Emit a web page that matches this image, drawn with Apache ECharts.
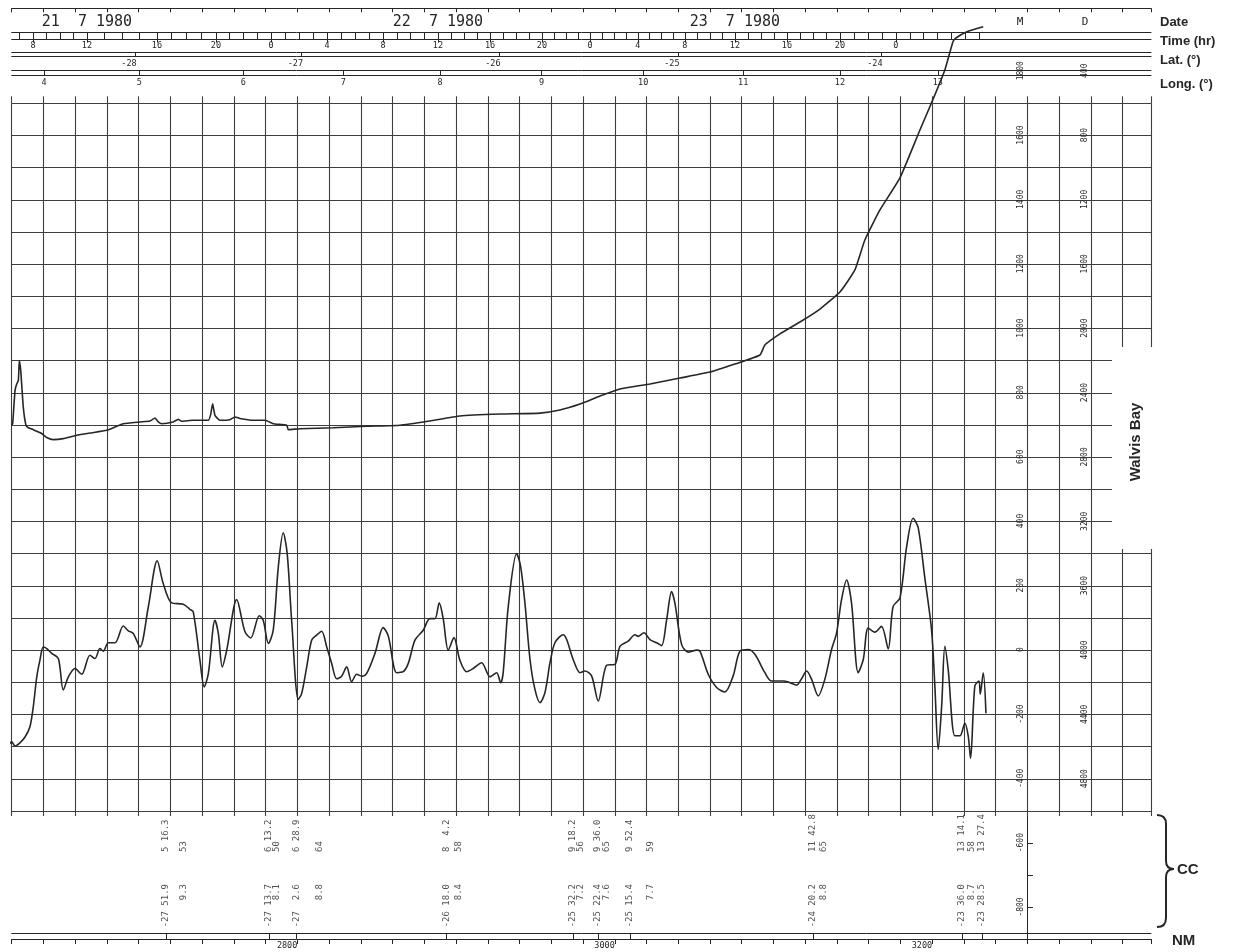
<!DOCTYPE html>
<html><head><meta charset="utf-8">
<script src="https://cdn.jsdelivr.net/npm/echarts@6/dist/echarts.min.js"></script>
<style>html,body{margin:0;padding:0;background:#fff}#c{width:1237px;height:952px}</style>
</head><body><div id="c"></div>
<script>
// ---------------- DATA (distance along track in nautical miles) ----------------
const magDist = [2617.9,2620.0,2622.1,2625.2,2628.4,2631.5,2633.6,2635.8,2637.8,2639.9,2642.1,2645.2,2649.4,2652.5,2655.7,2659.9,2664.1,2669.3,2672.5,2675.6,2677.7,2680.9,2685.1,2690.3,2693.5,2696.6,2700.8,2706.1,2711.7,2715.5,2720.8,2728.1,2732.3,2734.4,2738.6,2741.3,2743.9,2748.1,2750.2,2752.7,2755.5,2761.8,2767.0,2770.6,2776.0,2778.5,2781.7,2784.8,2788.0,2791.1,2793.6,2796.4,2800.6,2802.7,2805.9,2809.0,2812.2,2815.3,2818.5,2821.6,2824.8,2827.9,2831.1,2834.2,2837.4,2840.5,2843.7,2848.9,2854.1,2857.3,2862.6,2866.7,2869.9,2874.1,2879.3,2883.5,2886.7,2889.4,2891.9,2895.1,2898.7,2902.4,2906.7,2910.8,2916.1,2921.4,2925.6,2928.1,2929.7,2932.9,2938.2,2940.7,2943.4,2946.6,2949.7,2952.9,2956.0,2959.2,2962.3,2967.5,2969.7,2973.8,2978.1,2981.2,2985.4,2989.6,2994.9,3000.1,3003.3,3008.5,3012.7,3014.8,3018.4,3022.2,3026.4,3029.5,3032.7,3035.8,3037.9,3042.1,3046.3,3051.6,3053.7,3058.9,3064.2,3069.4,3074.6,3078.9,3084.1,3088.3,3094.6,3098.8,3106.1,3110.4,3114.6,3117.7,3120.9,3124.0,3128.2,3132.4,3136.6,3139.8,3142.9,3146.1,3149.2,3153.4,3156.6,3159.7,3163.9,3168.1,3172.3,3175.4,3179.7,3183.9,3188.0,3191.2,3195.4,3199.6,3201.7,3203.8,3206.0,3208.0,3210.1,3214.3,3217.5,3220.6,3222.7,3224.2,3226.9,3229.5,3230.3,3232.2,3233.9];
const magAnom = [-295,-285,-298,-288,-270,-238,-176,-83,-31,10,5,-10,-26,-124,-83,-57,-75,-16,-26,5,-3,23,23,75,60,52,10,135,278,207,147,143,127,119,-31,-114,-73,93,52,-52,0,157,57,38,107,93,21,62,259,365,300,93,-153,-135,-52,31,47,59,10,-41,-89,-81,-52,-98,-75,-81,-72,-10,70,44,-70,-67,-41,31,62,98,98,147,98,0,39,-31,-67,-57,-39,-83,-70,-101,-70,136,300,260,146,-29,-122,-163,-132,-39,23,48,33,-29,-70,-65,-80,-158,-47,-44,12,28,48,43,54,33,23,14,95,182,146,18,-6,0,-3,-75,-116,-130,-80,-3,2,-13,-70,-96,-96,-101,-109,-89,-65,-90,-142,-90,2,54,157,218,146,-70,-29,69,56,74,4,136,162,321,410,381,224,64,-111,-309,-173,12,-60,-266,-266,-227,-266,-336,-111,-96,-137,-70,-196];

const bathDist = [2620.0,2620.6,2622.1,2623.2,2624.2,2624.8,2625.7,2627.3,2629.0,2630.5,2633.6,2636.8,2638.9,2642.1,2646.2,2652.5,2661.0,2669.3,2679.9,2686.2,2690.3,2700.8,2707.1,2710.3,2712.4,2714.5,2721.8,2725.0,2727.1,2734.4,2740.7,2743.9,2745.4,2746.6,2748.1,2751.2,2757.5,2760.7,2763.8,2772.2,2779.6,2784.8,2793.3,2794.3,2801.6,2822.6,2843.7,2864.7,2883.5,2902.4,2927.6,2952.9,2965.4,2978.1,2990.7,3003.3,3022.2,3041.1,3060.0,3075.7,3091.5,3094.6,3104.1,3116.7,3129.3,3141.9,3151.3,3157.6,3167.1,3179.7,3192.3,3201.7,3208.0,3213.1,3215.0,3221.9,3232.2];
const bathDepth = [2602,2592,2386,2344,2323,2200,2262,2489,2602,2617,2629,2643,2653,2678,2691,2685,2664,2650,2633,2608,2592,2581,2575,2557,2581,2592,2581,2565,2577,2571,2571,2571,2534,2468,2540,2571,2567,2550,2560,2571,2571,2592,2602,2629,2623,2617,2608,2602,2575,2544,2532,2526,2507,2470,2420,2376,2345,2308,2271,2221,2165,2103,2034,1960,1879,1773,1636,1450,1263,1064,766,548,393,217,194,155,124];

const timeMajorDist = [2633.4,2667.4,2711.5,2748.7,2783.4,2818.7,2854.0,2888.6,2921.4,2954.1,2984.4,3014.6,3044.2,3075.7,3108.5,3141.9,3177.1];
const timeMajorLabels = ['8','12','16','20','0','4','8','12','16','20','0','4','8','12','16','20','0'];
const dateDist = [2667.4,2888.6,3075.7];
const dateLabels = ['21  7 1980','22  7 1980','23  7 1980'];
const latDist = [2697.7,2802.5,2927.0,3039.8,3167.7];
const latLabels = ['-28','-27','-26','-25','-24'];
const lonDist = [2640.4,2700.4,2765.9,2828.9,2889.9,2953.9,3017.9,3080.9,3141.9,3203.6];
const lonLabels = ['4','5','6','7','8','9','10','11','12','13'];
const nmLabelValues = [2800,3000,3200];
const magLabelValues = [-800,-600,-400,-200,0,200,400,600,800,1000,1200,1400,1600,1800];
const ccTickValues = [-600,-700,-800];
const depthLabelValues = [400,800,1200,1600,2000,2400,2800,3200,3600,4000,4400,4800];

const fixDist = [2717.2,2782.1,2799.5,2894.1,2973.7,2989.4,3009.6,3124.9,3218.7,3231.3];
const fixLon = ['5 16.3','6 13.2','6 28.9','8  4.2','9 18.2','9 36.0','9 52.4','11 42.8','13 14.1','13 27.4'];
const fixLat = ['-27 51.9','-27 13.7','-27  2.6','-26 18.0','-25 32.2','-25 22.4','-25 15.4','-24 20.2','-23 36.0','-23 28.5'];
const auxDist = [2728.6,2787.2,2814.2,2901.6,2978.7,2995.1,3022.8,3131.8,3225.0];
const auxTop = ['53','50','64','58','56','65','59','65','58'];
const auxBottom = ['9.3','8.1','8.8','8.4','7.2','7.6','7.7','8.8','8.7'];

// ---------------- STYLE / LAYOUT ----------------
const INK = '#262626', GRIDC = '#3e3e3e';
const MONO = "'DejaVu Sans Mono','Liberation Mono',monospace";
const SANS = "'Liberation Sans',Arial,sans-serif";
const X0 = 2620, X1 = 3337.9;

function lookup(vals, labels){ return function(v){ for (let i=0;i<vals.length;i++){ if (Math.abs(vals[i]-v) < 1e-4) return labels[i]; } return ''; }; }
const plain = (v) => String(Math.round(v));
const zip = (a,b) => a.map((v,i)=>[v,b[i]]);

// hourly ticks of the time band (between the 4-hour marks)
const hourTicks = [];
for (let i=0;i<timeMajorDist.length-1;i++){ const a=timeMajorDist[i], b=timeMajorDist[i+1]; for (let k=0;k<4;k++) hourTicks.push(a+(b-a)*k/4); }
(function(){ const n=timeMajorDist.length, last=timeMajorDist[n-1], st=(last-timeMajorDist[n-2])/4; for (let k=0;k<=6;k++){ const v=last+k*st; if (v<=3232.5) hourTicks.push(v);} const s0=(timeMajorDist[1]-timeMajorDist[0])/4; hourTicks.unshift(timeMajorDist[0]-s0); })();

const line = (extra) => Object.assign({show:true, onZero:false, lineStyle:{color:INK, width:1}}, extra||{});
const noLine = {show:false, onZero:false};
function grid(top, height, extra){ return Object.assign({left:11.7, right:86, top, height, containLabel:false, outerBoundsMode:'none'}, extra||{}); }
function xa(gi, pos, extra){ return Object.assign({type:'value', gridIndex:gi, position:pos, min:X0, max:X1, interval:20, axisLine:noLine, axisTick:{show:false}, axisLabel:{show:false}, splitLine:{show:false}}, extra||{}); }
function hy(gi, extra){ return Object.assign({type:'value', gridIndex:gi, show:false, min:0, max:1, axisLine:noLine, splitLine:{show:false}}, extra||{}); }
const txt = (size) => ({color:INK, fontFamily:MONO, fontSize:size});
const T = (x,y,text,font,align,extra) => Object.assign({type:'text', z:101, x, y, style:{text, fill:INK, font, textAlign:align, textVerticalAlign:'middle', align, verticalAlign:'middle'}}, extra||{});
const ln = (x1,y1,x2,y2) => ({type:'line', z:101, shape:{x1,y1,x2,y2}, style:{stroke:INK, lineWidth:2}});
const bz = (x1,y1,cx,cy,x2,y2) => ({type:'bezierCurve', z:101, shape:{x1,y1,x2,y2,cpx1:cx,cpy1:cy}, style:{stroke:INK, lineWidth:2, fill:null}});

const option = {
  animation:false,
  backgroundColor:'#fff',
  grid:[
    grid(103.3, 707.7),            //0 main
    grid(8.3, 10),                 //1 date line
    grid(32.5, 7),                 //2 time band
    grid(52, 4),                   //3 lat band
    grid(70.5, 5),                 //4 long band
    grid(811, 130),                //5 annotations
    grid(933, 6),                  //6 NM band
    {left:1027, right:86, top:70.7, height:836.3, containLabel:false, outerBoundsMode:'none'}, //7 mag labels
    {left:1091, right:86, top:70.7, height:708, containLabel:false, outerBoundsMode:'none'},   //8 depth labels
    {left:1027, right:86, top:811, height:128.2, containLabel:false, outerBoundsMode:'none'}   //9 CC axis
  ],
  xAxis:[
    xa(0,'top',{splitLine:{show:true, lineStyle:{color:GRIDC, width:1.1}}, axisTick:{show:true, length:7, lineStyle:{color:GRIDC, width:1.1}}}),
    xa(0,'bottom',{axisTick:{show:true, length:5, lineStyle:{color:GRIDC, width:1.1}}}),
    xa(1,'top',{axisLine:line(), axisTick:{show:true, inside:true, length:4, lineStyle:{color:INK}}}),
    xa(2,'top',{axisLine:line(), axisTick:{show:true, inside:true, length:7, customValues:hourTicks, lineStyle:{color:INK}},
      axisLabel:Object.assign({show:true, customValues:dateDist, formatter:lookup(dateDist,dateLabels), margin:3}, txt(15))}),
    xa(2,'bottom',{axisLine:line(), axisTick:{show:true, length:3, customValues:timeMajorDist, lineStyle:{color:INK}},
      axisLabel:Object.assign({show:true, customValues:timeMajorDist, formatter:lookup(timeMajorDist,timeMajorLabels), margin:2}, txt(8.5))}),
    xa(3,'top',{axisLine:line(), axisTick:{show:true, inside:true, length:4, customValues:latDist, lineStyle:{color:INK}}}),
    xa(3,'bottom',{axisLine:line(), axisLabel:Object.assign({show:true, customValues:latDist, formatter:lookup(latDist,latLabels), margin:3, padding:[0,12,0,0]}, txt(8.5))}),
    xa(4,'top',{axisLine:line(), axisTick:{show:true, inside:true, length:5, customValues:lonDist, lineStyle:{color:INK}}}),
    xa(4,'bottom',{axisLine:line(), axisLabel:Object.assign({show:true, customValues:lonDist, formatter:lookup(lonDist,lonLabels), margin:3}, txt(8.5))}),
    xa(5,'bottom',{show:false}),
    xa(6,'top',{axisLine:line(), axisTick:{show:true, inside:true, length:6, customValues:fixDist, lineStyle:{color:INK}}}),
    xa(6,'bottom',{axisLine:line(), axisTick:{show:true, length:5, lineStyle:{color:INK}},
      axisLabel:Object.assign({show:true, customValues:nmLabelValues, formatter:plain, align:'right', margin:2}, txt(8.5))}),
    {type:'value', gridIndex:7, show:false, min:0, max:1},
    {type:'value', gridIndex:8, show:false, min:0, max:1},
    {type:'value', gridIndex:9, show:false, min:0, max:1}
  ],
  yAxis:[
    {type:'value', gridIndex:0, min:-500, max:1700, interval:100, axisLine:noLine, axisTick:{show:false}, axisLabel:{show:false},
      splitLine:{show:true, lineStyle:{color:GRIDC, width:1.1}}},
    {type:'value', gridIndex:0, show:false, inverse:true, min:600, max:5000, axisLine:noLine, splitLine:{show:false}},
    hy(1), hy(2), hy(3), hy(4),
    hy(5,{min:0, max:130, inverse:true}),
    hy(6),
    {type:'value', gridIndex:7, position:'left', min:-800, max:1800, axisLine:noLine, axisTick:{show:false}, splitLine:{show:false},
      axisLabel:Object.assign({show:true, customValues:magLabelValues, formatter:plain, rotate:90, margin:2}, txt(8))},
    {type:'value', gridIndex:8, position:'left', inverse:true, min:400, max:4800, axisLine:noLine, axisTick:{show:false}, splitLine:{show:false},
      axisLabel:Object.assign({show:true, customValues:depthLabelValues, formatter:plain, rotate:90, margin:2}, txt(8))},
    {type:'value', gridIndex:9, position:'left', min:-900, max:-500, axisLine:line(), splitLine:{show:false}, axisLabel:{show:false},
      axisTick:{show:true, inside:true, length:6, customValues:ccTickValues, lineStyle:{color:INK}}}
  ],
  series:[
    {type:'line', name:'Magnetics', xAxisIndex:0, yAxisIndex:0, data:zip(magDist,magAnom), smooth:0.3, symbol:'none', showSymbol:false, clip:false,
      lineStyle:{color:INK, width:1.6}, z:5},
    {type:'line', name:'Depth', xAxisIndex:0, yAxisIndex:1, data:zip(bathDist,bathDepth), smooth:0.15, symbol:'none', showSymbol:false, clip:false,
      lineStyle:{color:INK, width:1.6}, z:5},
    {type:'scatter', xAxisIndex:9, yAxisIndex:6, data:fixDist.map(d=>[d,41]), symbolSize:1, itemStyle:{color:'rgba(0,0,0,0)'}, silent:true,
      label:Object.assign({show:true, position:'inside', rotate:90, align:'left', verticalAlign:'middle', formatter:(p)=>fixLon[p.dataIndex]}, txt(9))},
    {type:'scatter', xAxisIndex:9, yAxisIndex:6, data:auxDist.map(d=>[d,41]), symbolSize:1, itemStyle:{color:'rgba(0,0,0,0)'}, silent:true,
      label:Object.assign({show:true, position:'inside', rotate:90, align:'left', verticalAlign:'middle', formatter:(p)=>auxTop[p.dataIndex]}, txt(9))},
    {type:'scatter', xAxisIndex:9, yAxisIndex:6, data:fixDist.map(d=>[d,73]), symbolSize:1, itemStyle:{color:'rgba(0,0,0,0)'}, silent:true,
      label:Object.assign({show:true, position:'inside', rotate:90, align:'right', verticalAlign:'middle', formatter:(p)=>fixLat[p.dataIndex]}, txt(9))},
    {type:'scatter', xAxisIndex:9, yAxisIndex:6, data:auxDist.map(d=>[d,73]), symbolSize:1, itemStyle:{color:'rgba(0,0,0,0)'}, silent:true,
      label:Object.assign({show:true, position:'inside', rotate:90, align:'right', verticalAlign:'middle', formatter:(p)=>auxBottom[p.dataIndex]}, txt(9))}
  ],
  graphic:[
    {type:'rect', z:100, shape:{x:1112, y:347, width:50, height:202}, style:{fill:'#fff'}},
    T(1160,22,'Date','bold 13px '+SANS,'left'),
    T(1160,41,'Time (hr)','bold 13px '+SANS,'left'),
    T(1160,60,'Lat. (°)','bold 13px '+SANS,'left'),
    T(1160,84,'Long. (°)','bold 13px '+SANS,'left'),
    T(1136,442,'Walvis Bay','bold 15px '+SANS,'center',{rotation:Math.PI/2}),
    T(1177,870,'CC','bold 15px '+SANS,'left'),
    T(1172,941,'NM','bold 15px '+SANS,'left'),
    T(1020,22,'M','11px '+MONO,'center'),
    T(1085,22,'D','11px '+MONO,'center'),
    bz(1157,815,1166,815,1166,824),
    ln(1166,824,1166,861),
    bz(1166,861,1166,869,1174,869),
    bz(1174,869,1166,869,1166,877),
    ln(1166,877,1166,918),
    bz(1166,918,1166,927,1157,927)
  ]
};
const chart = echarts.init(document.getElementById('c'), null, {renderer:'canvas'});
chart.setOption(option);
</script>
</body></html>
